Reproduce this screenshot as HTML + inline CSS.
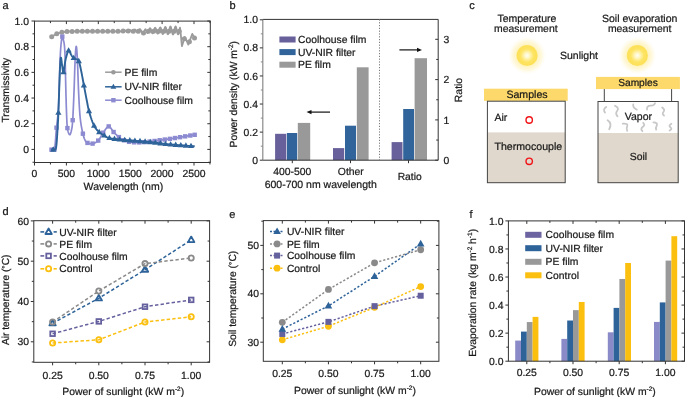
<!DOCTYPE html>
<html><head><meta charset="utf-8"><style>
html,body{margin:0;padding:0;background:#fff;width:685px;height:397px;overflow:hidden}
svg{display:block;font-family:"Liberation Sans", sans-serif;text-rendering:geometricPrecision;will-change:transform}
text{stroke:#1a1a1a;stroke-width:0.22px}
</style></head><body>
<svg width="685" height="397" viewBox="0 0 685 397">
<defs>
<radialGradient id="glow"><stop offset="0.45" stop-color="#fff1ac" stop-opacity="1"/><stop offset="0.75" stop-color="#fff6d0" stop-opacity="0.75"/><stop offset="1" stop-color="#fffaea" stop-opacity="0"/></radialGradient>
<radialGradient id="core"><stop offset="0" stop-color="#fffef6"/><stop offset="0.2" stop-color="#fff8cc"/><stop offset="0.62" stop-color="#fde462"/><stop offset="0.9" stop-color="#fde058"/><stop offset="1" stop-color="#fde468"/></radialGradient>
</defs>
<rect width="685" height="397" fill="#fff"/>
<text x="2.6" y="8.5" font-size="11" text-anchor="start" fill="#1a1a1a">a</text>
<rect x="34.5" y="21.1" width="175.8" height="141.4" fill="none" stroke="#333" stroke-width="1"/>
<line x1="32.5" y1="162.24" x2="34.5" y2="162.24" stroke="#333" stroke-width="1"/>
<line x1="210.3" y1="162.24" x2="208.3" y2="162.24" stroke="#333" stroke-width="1"/>
<line x1="31.5" y1="149.4" x2="34.5" y2="149.4" stroke="#333" stroke-width="1"/>
<line x1="210.3" y1="149.4" x2="207.3" y2="149.4" stroke="#333" stroke-width="1"/>
<text x="29" y="153" font-size="10.4" text-anchor="end" fill="#1a1a1a">0</text>
<line x1="32.5" y1="136.56" x2="34.5" y2="136.56" stroke="#333" stroke-width="1"/>
<line x1="210.3" y1="136.56" x2="208.3" y2="136.56" stroke="#333" stroke-width="1"/>
<line x1="31.5" y1="123.72" x2="34.5" y2="123.72" stroke="#333" stroke-width="1"/>
<line x1="210.3" y1="123.72" x2="207.3" y2="123.72" stroke="#333" stroke-width="1"/>
<text x="29" y="127.32" font-size="10.4" text-anchor="end" fill="#1a1a1a">0.2</text>
<line x1="32.5" y1="110.88" x2="34.5" y2="110.88" stroke="#333" stroke-width="1"/>
<line x1="210.3" y1="110.88" x2="208.3" y2="110.88" stroke="#333" stroke-width="1"/>
<line x1="31.5" y1="98.04" x2="34.5" y2="98.04" stroke="#333" stroke-width="1"/>
<line x1="210.3" y1="98.04" x2="207.3" y2="98.04" stroke="#333" stroke-width="1"/>
<text x="29" y="101.64" font-size="10.4" text-anchor="end" fill="#1a1a1a">0.4</text>
<line x1="32.5" y1="85.2" x2="34.5" y2="85.2" stroke="#333" stroke-width="1"/>
<line x1="210.3" y1="85.2" x2="208.3" y2="85.2" stroke="#333" stroke-width="1"/>
<line x1="31.5" y1="72.36" x2="34.5" y2="72.36" stroke="#333" stroke-width="1"/>
<line x1="210.3" y1="72.36" x2="207.3" y2="72.36" stroke="#333" stroke-width="1"/>
<text x="29" y="75.96" font-size="10.4" text-anchor="end" fill="#1a1a1a">0.6</text>
<line x1="32.5" y1="59.52" x2="34.5" y2="59.52" stroke="#333" stroke-width="1"/>
<line x1="210.3" y1="59.52" x2="208.3" y2="59.52" stroke="#333" stroke-width="1"/>
<line x1="31.5" y1="46.68" x2="34.5" y2="46.68" stroke="#333" stroke-width="1"/>
<line x1="210.3" y1="46.68" x2="207.3" y2="46.68" stroke="#333" stroke-width="1"/>
<text x="29" y="50.28" font-size="10.4" text-anchor="end" fill="#1a1a1a">0.8</text>
<line x1="32.5" y1="33.84" x2="34.5" y2="33.84" stroke="#333" stroke-width="1"/>
<line x1="210.3" y1="33.84" x2="208.3" y2="33.84" stroke="#333" stroke-width="1"/>
<line x1="31.5" y1="21" x2="34.5" y2="21" stroke="#333" stroke-width="1"/>
<line x1="210.3" y1="21" x2="207.3" y2="21" stroke="#333" stroke-width="1"/>
<text x="29" y="24.6" font-size="10.4" text-anchor="end" fill="#1a1a1a">1.0</text>
<line x1="34.5" y1="162.5" x2="34.5" y2="165.5" stroke="#333" stroke-width="1"/>
<line x1="34.5" y1="21.1" x2="34.5" y2="24.1" stroke="#333" stroke-width="1"/>
<text x="34.5" y="177" font-size="10.4" text-anchor="middle" fill="#1a1a1a">0</text>
<line x1="50.45" y1="162.5" x2="50.45" y2="164.5" stroke="#333" stroke-width="1"/>
<line x1="50.45" y1="21.1" x2="50.45" y2="23.1" stroke="#333" stroke-width="1"/>
<line x1="66.4" y1="162.5" x2="66.4" y2="165.5" stroke="#333" stroke-width="1"/>
<line x1="66.4" y1="21.1" x2="66.4" y2="24.1" stroke="#333" stroke-width="1"/>
<text x="66.4" y="177" font-size="10.4" text-anchor="middle" fill="#1a1a1a">500</text>
<line x1="82.35" y1="162.5" x2="82.35" y2="164.5" stroke="#333" stroke-width="1"/>
<line x1="82.35" y1="21.1" x2="82.35" y2="23.1" stroke="#333" stroke-width="1"/>
<line x1="98.3" y1="162.5" x2="98.3" y2="165.5" stroke="#333" stroke-width="1"/>
<line x1="98.3" y1="21.1" x2="98.3" y2="24.1" stroke="#333" stroke-width="1"/>
<text x="98.3" y="177" font-size="10.4" text-anchor="middle" fill="#1a1a1a">1000</text>
<line x1="114.25" y1="162.5" x2="114.25" y2="164.5" stroke="#333" stroke-width="1"/>
<line x1="114.25" y1="21.1" x2="114.25" y2="23.1" stroke="#333" stroke-width="1"/>
<line x1="130.2" y1="162.5" x2="130.2" y2="165.5" stroke="#333" stroke-width="1"/>
<line x1="130.2" y1="21.1" x2="130.2" y2="24.1" stroke="#333" stroke-width="1"/>
<text x="130.2" y="177" font-size="10.4" text-anchor="middle" fill="#1a1a1a">1500</text>
<line x1="146.15" y1="162.5" x2="146.15" y2="164.5" stroke="#333" stroke-width="1"/>
<line x1="146.15" y1="21.1" x2="146.15" y2="23.1" stroke="#333" stroke-width="1"/>
<line x1="162.1" y1="162.5" x2="162.1" y2="165.5" stroke="#333" stroke-width="1"/>
<line x1="162.1" y1="21.1" x2="162.1" y2="24.1" stroke="#333" stroke-width="1"/>
<text x="162.1" y="177" font-size="10.4" text-anchor="middle" fill="#1a1a1a">2000</text>
<line x1="178.05" y1="162.5" x2="178.05" y2="164.5" stroke="#333" stroke-width="1"/>
<line x1="178.05" y1="21.1" x2="178.05" y2="23.1" stroke="#333" stroke-width="1"/>
<line x1="194" y1="162.5" x2="194" y2="165.5" stroke="#333" stroke-width="1"/>
<line x1="194" y1="21.1" x2="194" y2="24.1" stroke="#333" stroke-width="1"/>
<text x="194" y="177" font-size="10.4" text-anchor="middle" fill="#1a1a1a">2500</text>
<line x1="209.95" y1="162.5" x2="209.95" y2="164.5" stroke="#333" stroke-width="1"/>
<line x1="209.95" y1="21.1" x2="209.95" y2="23.1" stroke="#333" stroke-width="1"/>
<text x="123.4" y="189.8" font-size="10.5" text-anchor="middle" fill="#1a1a1a">Wavelength (nm)</text>
<text x="9.2" y="90.2" font-size="10.3" text-anchor="middle" fill="#1a1a1a" transform="rotate(-90 9.2 90.2)">Transmissivity</text>
<polyline points="51.7,36.7 56,34 61.5,32.3 67,31.5 80,31.2 100,31.3 120,31.3 122,31.4 122.4,31.37 122.8,31.25 123.2,31.03 123.6,30.78 124,30.55 124.4,30.41 124.8,30.39 125.2,30.52 125.6,30.78 126,31.11 126.4,31.43 126.8,31.66 127.2,31.73 127.6,31.61 128,31.32 128.4,30.91 128.8,30.48 129.2,30.13 129.6,29.96 130,30.01 130.4,30.3 130.8,30.75 131.2,31.27 131.6,31.73 132,32.02 132.4,32.04 132.8,31.79 133.2,31.3 133.6,30.69 134,30.1 134.4,29.67 134.8,29.51 135.2,29.69 135.6,30.15 136,30.82 136.4,31.52 136.8,32.08 137.2,32.38 137.6,32.31 138,31.88 138.4,31.18 138.8,30.38 139.2,29.65 139.6,29.18 140,29.1 140.4,29.43 140.8,30.11 141.2,30.98 141.6,31.84 142,32.47 142.4,32.73 142.8,33.14 143.2,33.23 143.6,32.8 144,31.98 144.4,30.98 144.8,30.04 145.2,29.35 145.6,29.25 146,30.16 146.4,31.23 146.8,32.22 147.2,32.88 147.6,33.05 148,32.66 148.4,31.8 148.8,30.66 149.2,29.51 149.6,28.62 150,28.22 150.4,28.42 150.8,29.17 151.2,30.31 151.6,31.57 152,32.66 152.4,33.3 152.8,33.32 153.2,32.71 153.6,31.6 154,30.25 154.4,28.97 154.8,28.07 155.2,27.78 155.6,28.18 156,29.19 156.4,30.56 156.8,31.99 157.2,33.13 157.6,33.69 158,33.53 158.4,32.67 158.8,31.31 159.2,29.76 159.6,28.38 160,27.52 160.4,27.39 160.8,28.03 161.2,29.31 161.6,30.91 162,32.48 162.4,33.62 162.8,34.05 163.2,33.66 163.6,32.53 164,30.91 164.4,29.18 164.8,27.76 165.2,26.99 165.6,27.07 166,27.98 166.4,29.54 166.8,31.36 167.2,33.01 167.6,34.11 168,34.36 168.4,33.7 168.8,32.27 169.2,30.41 169.6,28.54 170,27.12 170.4,26.52 170.8,26.88 171.2,28.1 171.6,29.89 172,31.83 172.4,33.45 172.8,34.37 173.2,34.37 173.6,33.44 174,31.81 174.4,29.86 174.8,28.06 175.2,26.83 175.6,26.47 176,27.06 176.4,28.46 176.8,30.33 177.2,32.23 177.6,33.71 178,34.41 178.4,34.17 178.8,33.03 179.2,31.28 179.6,29.33 180,27.64 180.4,30.5 181.9,46.2 184.9,37 188.3,44.6 192.3,33.9 194.7,38.5" fill="none" stroke="#9b9b9b" stroke-width="1.8" stroke-linejoin="round"/>
<circle cx="51.7" cy="36.7" r="2.5" fill="#9b9b9b"/>
<circle cx="56.8" cy="33.75" r="2.5" fill="#9b9b9b"/>
<circle cx="61.9" cy="32.24" r="2.5" fill="#9b9b9b"/>
<circle cx="67" cy="31.5" r="2.5" fill="#9b9b9b"/>
<circle cx="72.1" cy="31.38" r="2.5" fill="#9b9b9b"/>
<circle cx="77.2" cy="31.26" r="2.5" fill="#9b9b9b"/>
<circle cx="82.3" cy="31.21" r="2.5" fill="#9b9b9b"/>
<circle cx="87.4" cy="31.24" r="2.5" fill="#9b9b9b"/>
<circle cx="92.5" cy="31.26" r="2.5" fill="#9b9b9b"/>
<circle cx="97.6" cy="31.29" r="2.5" fill="#9b9b9b"/>
<circle cx="102.7" cy="31.3" r="2.5" fill="#9b9b9b"/>
<circle cx="107.8" cy="31.3" r="2.5" fill="#9b9b9b"/>
<circle cx="112.9" cy="31.3" r="2.5" fill="#9b9b9b"/>
<circle cx="118" cy="31.3" r="2.5" fill="#9b9b9b"/>
<circle cx="123.1" cy="31.09" r="2.5" fill="#9b9b9b"/>
<circle cx="128.2" cy="31.11" r="2.5" fill="#9b9b9b"/>
<circle cx="133.3" cy="31.15" r="2.5" fill="#9b9b9b"/>
<circle cx="138.4" cy="31.18" r="2.5" fill="#9b9b9b"/>
<circle cx="143.5" cy="32.9" r="2.5" fill="#9b9b9b"/>
<circle cx="148.6" cy="31.23" r="2.5" fill="#9b9b9b"/>
<circle cx="153.7" cy="31.27" r="2.5" fill="#9b9b9b"/>
<circle cx="158.8" cy="31.31" r="2.5" fill="#9b9b9b"/>
<circle cx="163.9" cy="31.31" r="2.5" fill="#9b9b9b"/>
<circle cx="169" cy="31.34" r="2.5" fill="#9b9b9b"/>
<circle cx="174.1" cy="31.32" r="2.5" fill="#9b9b9b"/>
<circle cx="179.2" cy="31.28" r="2.5" fill="#9b9b9b"/>
<circle cx="184.3" cy="38.84" r="2.5" fill="#9b9b9b"/>
<circle cx="189.4" cy="41.66" r="2.5" fill="#9b9b9b"/>
<circle cx="194.5" cy="38.12" r="2.5" fill="#9b9b9b"/>
<polyline points="51.2,149.5 51.58,149.7 52.11,150.17 52.74,150.63 53.39,150.82 54,150.46 54.5,149.3 54.88,147.14 55.2,144.17 55.48,140.66 55.74,136.88 56.01,133.1 56.3,129.6 56.63,126.45 56.99,123.44 57.34,120.44 57.69,117.3 58.02,113.87 58.3,110 58.54,105.46 58.75,100.33 58.94,94.9 59.1,89.5 59.26,84.43 59.4,80 59.53,76.24 59.64,72.89 59.73,69.88 59.82,67.11 59.91,64.51 60,62 60.1,59.62 60.19,57.44 60.29,55.44 60.39,53.56 60.49,51.76 60.6,50 60.72,48.27 60.85,46.61 60.98,45.02 61.12,43.55 61.26,42.2 61.4,41 61.54,39.91 61.69,38.9 61.83,38.03 61.98,37.32 62.14,36.83 62.3,36.6 62.47,36.69 62.66,37.08 62.84,37.68 63.03,38.42 63.22,39.22 63.4,40 63.58,40.71 63.75,41.42 63.92,42.18 64.09,43.07 64.25,44.15 64.4,45.5 64.53,46.98 64.66,48.5 64.77,50.22 64.88,52.28 64.99,54.82 65.1,58 65.22,62.06 65.33,66.93 65.45,72.28 65.57,77.8 65.68,83.14 65.8,88 65.91,92.44 66.03,96.74 66.14,100.87 66.25,104.81 66.37,108.53 66.5,112 66.62,115.25 66.74,118.3 66.86,121.14 67,123.73 67.17,126.06 67.4,128.1 67.69,129.88 68.05,131.42 68.44,132.7 68.84,133.69 69.24,134.36 69.6,134.7 69.94,134.63 70.28,134.16 70.61,133.37 70.93,132.36 71.23,131.21 71.5,130 71.74,128.87 71.95,127.79 72.14,126.57 72.32,125.02 72.5,122.96 72.7,120.2 72.91,116.63 73.13,112.38 73.35,107.61 73.57,102.51 73.79,97.25 74,92 74.21,86.41 74.41,80.27 74.61,73.97 74.81,67.9 75.01,62.44 75.2,58 75.39,54.47 75.57,51.51 75.76,49.17 75.94,47.49 76.12,46.52 76.3,46.3 76.48,46.9 76.66,48.31 76.84,50.42 77.03,53.14 77.21,56.36 77.4,60 77.59,64.34 77.78,69.53 77.97,75.23 78.17,81.1 78.38,86.8 78.6,92 78.83,96.8 79.06,101.49 79.31,106.02 79.57,110.32 79.87,114.33 80.2,118 80.59,121.32 81.04,124.34 81.52,127.08 82,129.54 82.47,131.75 82.9,133.7 83.28,135.33 83.63,136.62 83.96,137.65 84.29,138.5 84.63,139.26 85,140 85.36,140.71 85.71,141.3 86.06,141.8 86.46,142.22 86.93,142.58 87.5,142.9 88.19,143.19 88.99,143.43 89.86,143.62 90.77,143.72 91.69,143.72 92.6,143.6 93.51,143.37 94.45,143.06 95.41,142.64 96.36,142.1 97.3,141.43 98.2,140.6 99.06,139.55 99.89,138.27 100.71,136.86 101.52,135.4 102.34,133.98 103.2,132.7 104.09,131.42 105.02,130.04 105.96,128.71 106.89,127.56 107.81,126.74 108.7,126.4 109.55,126.65 110.36,127.4 111.16,128.49 111.96,129.73 112.77,130.96 113.6,132 114.46,132.9 115.34,133.81 116.24,134.7 117.13,135.56 118.02,136.37 118.9,137.1 119.75,137.76 120.58,138.36 121.41,138.91 122.24,139.41 123.1,139.88 124,140.3 124.9,140.69 125.79,141.03 126.69,141.33 127.67,141.59 128.76,141.81 130,142 131.44,142.16 133.04,142.27 134.75,142.36 136.52,142.4 138.29,142.42 140,142.4 141.69,142.34 143.39,142.24 145.1,142.1 146.79,141.94 148.43,141.77 150,141.6 151.46,141.43 152.81,141.24 154.12,141.04 155.45,140.84 156.86,140.62 158.4,140.4 160.11,140.17 161.96,139.93 163.88,139.68 165.82,139.43 167.75,139.17 169.6,138.9 171.33,138.64 172.97,138.37 174.58,138.11 176.24,137.83 178.03,137.53 180,137.2 182.37,136.81 185.13,136.36 188,135.89 190.73,135.45 193.05,135.07 194.7,134.8" fill="none" stroke="#8c8ad0" stroke-width="1.7" stroke-linejoin="round"/>
<rect x="49.3" y="147.46" width="4.4" height="4.4" fill="#8c8ad0"/>
<rect x="52.3" y="147.1" width="4.4" height="4.4" fill="#8c8ad0"/>
<rect x="54.3" y="125.5" width="4.4" height="4.4" fill="#8c8ad0"/>
<rect x="60.1" y="34.4" width="4.4" height="4.4" fill="#8c8ad0"/>
<rect x="65.2" y="125.9" width="4.4" height="4.4" fill="#8c8ad0"/>
<rect x="70.5" y="118" width="4.4" height="4.4" fill="#8c8ad0"/>
<rect x="80.7" y="131.5" width="4.4" height="4.4" fill="#8c8ad0"/>
<rect x="85.3" y="140.7" width="4.4" height="4.4" fill="#8c8ad0"/>
<rect x="90.4" y="141.4" width="4.4" height="4.4" fill="#8c8ad0"/>
<rect x="96" y="138.4" width="4.4" height="4.4" fill="#8c8ad0"/>
<rect x="101" y="130.5" width="4.4" height="4.4" fill="#8c8ad0"/>
<rect x="106.5" y="124.2" width="4.4" height="4.4" fill="#8c8ad0"/>
<rect x="111.4" y="129.8" width="4.4" height="4.4" fill="#8c8ad0"/>
<rect x="116.7" y="134.9" width="4.4" height="4.4" fill="#8c8ad0"/>
<rect x="121.8" y="138.1" width="4.4" height="4.4" fill="#8c8ad0"/>
<rect x="126.9" y="139.66" width="4.4" height="4.4" fill="#8c8ad0"/>
<rect x="132" y="140.13" width="4.4" height="4.4" fill="#8c8ad0"/>
<rect x="137.1" y="140.21" width="4.4" height="4.4" fill="#8c8ad0"/>
<rect x="142.2" y="139.96" width="4.4" height="4.4" fill="#8c8ad0"/>
<rect x="147.3" y="139.45" width="4.4" height="4.4" fill="#8c8ad0"/>
<rect x="152.4" y="138.77" width="4.4" height="4.4" fill="#8c8ad0"/>
<rect x="157.5" y="138.03" width="4.4" height="4.4" fill="#8c8ad0"/>
<rect x="162.6" y="137.36" width="4.4" height="4.4" fill="#8c8ad0"/>
<rect x="167.7" y="136.65" width="4.4" height="4.4" fill="#8c8ad0"/>
<rect x="172.8" y="135.84" width="4.4" height="4.4" fill="#8c8ad0"/>
<rect x="177.9" y="134.98" width="4.4" height="4.4" fill="#8c8ad0"/>
<rect x="183" y="134.15" width="4.4" height="4.4" fill="#8c8ad0"/>
<rect x="188.1" y="133.32" width="4.4" height="4.4" fill="#8c8ad0"/>
<rect x="192.5" y="132.6" width="4.4" height="4.4" fill="#8c8ad0"/>
<polyline points="51.2,149.5 51.58,149.53 52.11,149.59 52.74,149.66 53.4,149.69 54,149.64 54.5,149.5 54.88,149.4 55.2,149.39 55.48,149.31 55.72,149 55.96,148.28 56.2,147 56.44,145.01 56.68,142.41 56.9,139.42 57.11,136.22 57.31,133.01 57.5,130 57.67,127.28 57.83,124.71 57.97,122.14 58.11,119.4 58.25,116.34 58.4,112.8 58.56,108.57 58.73,103.73 58.91,98.57 59.08,93.38 59.24,88.42 59.4,84 59.54,80 59.68,76.18 59.81,72.6 59.94,69.33 60.07,66.44 60.2,64 60.33,61.98 60.45,60.31 60.58,59.03 60.7,58.13 60.84,57.65 61,57.6 61.18,58.17 61.37,59.39 61.57,61.01 61.78,62.81 61.99,64.56 62.2,66 62.4,67.37 62.6,68.91 62.8,70.39 63.01,71.58 63.24,72.26 63.5,72.2 63.78,71.2 64.08,69.39 64.39,67.08 64.73,64.54 65.1,62.08 65.5,60 65.95,58.12 66.44,56.17 66.97,54.29 67.5,52.64 68.02,51.36 68.5,50.6 68.95,50.49 69.38,50.94 69.8,51.77 70.21,52.77 70.61,53.74 71,54.5 71.38,55.08 71.73,55.66 72.08,56.21 72.43,56.72 72.8,57.19 73.2,57.6 73.63,57.92 74.09,58.16 74.56,58.36 75.04,58.54 75.53,58.74 76,59 76.47,59.23 76.95,59.39 77.43,59.57 77.9,59.87 78.36,60.38 78.8,61.2 79.22,62.33 79.61,63.69 79.99,65.27 80.38,67.03 80.78,68.95 81.2,71 81.66,73.28 82.14,75.82 82.64,78.52 83.14,81.27 83.63,83.97 84.1,86.5 84.55,88.88 84.99,91.18 85.41,93.43 85.84,95.64 86.26,97.83 86.7,100 87.12,102.14 87.51,104.24 87.91,106.31 88.34,108.37 88.83,110.46 89.4,112.6 90.08,114.87 90.83,117.27 91.65,119.7 92.5,122.04 93.36,124.17 94.2,126 95.04,127.49 95.9,128.71 96.76,129.74 97.63,130.63 98.48,131.43 99.3,132.2 100.1,132.9 100.87,133.49 101.63,133.98 102.39,134.43 103.14,134.85 103.9,135.3 104.59,135.76 105.18,136.2 105.77,136.63 106.46,137.04 107.33,137.43 108.5,137.8 109.86,138.14 111.32,138.44 112.97,138.73 114.91,139.01 117.22,139.3 120,139.6 123.39,139.91 127.35,140.22 131.68,140.54 136.2,140.87 140.7,141.22 145,141.6 149.12,142.03 153.21,142.51 157.29,143.01 161.38,143.5 165.48,143.98 169.6,144.4 174.04,144.79 178.86,145.17 183.69,145.53 188.17,145.84 191.96,146.1 194.7,146.3" fill="none" stroke="#2e6399" stroke-width="1.9" stroke-linejoin="round"/>
<polygon points="53.3,146.35 50.2,151.72 56.4,151.72" fill="#2e6399"/>
<polygon points="58.4,109.47 55.3,114.84 61.5,114.84" fill="#2e6399"/>
<polygon points="63.5,68.87 60.4,74.24 66.6,74.24" fill="#2e6399"/>
<polygon points="68.6,47.25 65.5,52.62 71.7,52.62" fill="#2e6399"/>
<polygon points="73.7,54.63 70.6,60 76.8,60" fill="#2e6399"/>
<polygon points="78.8,57.87 75.7,63.24 81.9,63.24" fill="#2e6399"/>
<polygon points="83.9,82.1 80.8,87.47 87,87.47" fill="#2e6399"/>
<polygon points="89,107.78 85.9,113.15 92.1,113.15" fill="#2e6399"/>
<polygon points="94.1,122.45 91,127.82 97.2,127.82" fill="#2e6399"/>
<polygon points="99.2,128.78 96.1,134.15 102.3,134.15" fill="#2e6399"/>
<polygon points="104.3,132.24 101.2,137.61 107.4,137.61" fill="#2e6399"/>
<polygon points="109.4,134.69 106.3,140.06 112.5,140.06" fill="#2e6399"/>
<polygon points="114.5,135.62 111.4,140.99 117.6,140.99" fill="#2e6399"/>
<polygon points="119.6,136.23 116.5,141.6 122.7,141.6" fill="#2e6399"/>
<polygon points="124.7,136.69 121.6,142.06 127.8,142.06" fill="#2e6399"/>
<polygon points="129.8,137.07 126.7,142.44 132.9,142.44" fill="#2e6399"/>
<polygon points="134.9,137.44 131.8,142.81 138,142.81" fill="#2e6399"/>
<polygon points="140,137.83 136.9,143.2 143.1,143.2" fill="#2e6399"/>
<polygon points="145.1,138.28 142,143.65 148.2,143.65" fill="#2e6399"/>
<polygon points="150.2,138.83 147.1,144.2 153.3,144.2" fill="#2e6399"/>
<polygon points="155.3,139.43 152.2,144.8 158.4,144.8" fill="#2e6399"/>
<polygon points="160.4,140.06 157.3,145.42 163.5,145.42" fill="#2e6399"/>
<polygon points="165.5,140.65 162.4,146.02 168.6,146.02" fill="#2e6399"/>
<polygon points="170.6,141.16 167.5,146.53 173.7,146.53" fill="#2e6399"/>
<polygon points="175.7,141.59 172.6,146.96 178.8,146.96" fill="#2e6399"/>
<polygon points="180.8,141.98 177.7,147.35 183.9,147.35" fill="#2e6399"/>
<polygon points="185.9,142.35 182.8,147.72 189,147.72" fill="#2e6399"/>
<polygon points="191,142.71 187.9,148.08 194.1,148.08" fill="#2e6399"/>
<line x1="105.1" y1="72.2" x2="121.6" y2="72.2" stroke="#9b9b9b" stroke-width="1.5"/>
<circle cx="113.4" cy="72.2" r="2.3" fill="#9b9b9b"/>
<text x="124.5" y="75.8" font-size="10.35" text-anchor="start" fill="#1a1a1a">PE film</text>
<line x1="105.1" y1="86.8" x2="121.6" y2="86.8" stroke="#2e6399" stroke-width="1.5"/>
<polygon points="113.4,83.69 110.5,88.71 116.3,88.71" fill="#2e6399"/>
<text x="124.5" y="90.4" font-size="10.35" text-anchor="start" fill="#1a1a1a">UV-NIR filter</text>
<line x1="105.1" y1="100.2" x2="121.6" y2="100.2" stroke="#8c8ad0" stroke-width="1.5"/>
<rect x="111.2" y="98" width="4.4" height="4.4" fill="#8c8ad0"/>
<text x="124.5" y="103.8" font-size="10.35" text-anchor="start" fill="#1a1a1a">Coolhouse film</text>
<text x="229.6" y="8.8" font-size="11" text-anchor="start" fill="#1a1a1a">b</text>
<rect x="275.1" y="133.8" width="11.2" height="26.4" fill="#67609a"/>
<rect x="286.9" y="133" width="10.3" height="27.2" fill="#30649a"/>
<rect x="297.8" y="122.9" width="12.4" height="37.3" fill="#999999"/>
<rect x="333" y="148.1" width="11.2" height="12.1" fill="#67609a"/>
<rect x="345" y="125.7" width="11" height="34.5" fill="#30649a"/>
<rect x="356.8" y="67.3" width="11.8" height="92.9" fill="#999999"/>
<rect x="391.6" y="142.1" width="10.9" height="18.1" fill="#67609a"/>
<rect x="403.2" y="109" width="10.8" height="51.2" fill="#30649a"/>
<rect x="414.6" y="58.2" width="12.4" height="102" fill="#999999"/>
<line x1="262.8" y1="19.4" x2="438.2" y2="19.4" stroke="#333" stroke-width="1"/>
<line x1="438.2" y1="19.4" x2="438.2" y2="160.2" stroke="#333" stroke-width="1"/>
<line x1="262.8" y1="160.2" x2="438.2" y2="160.2" stroke="#333" stroke-width="1"/>
<line x1="262.8" y1="19.4" x2="262.8" y2="160.2" stroke="#8a8a8a" stroke-width="1.2"/>
<line x1="379.5" y1="19.4" x2="379.5" y2="160.2" stroke="#7a7a7a" stroke-width="1" stroke-dasharray="1.2,1.6"/>
<line x1="259.8" y1="160.2" x2="262.8" y2="160.2" stroke="#333" stroke-width="1"/>
<text x="258" y="163.8" font-size="10.4" text-anchor="end" fill="#1a1a1a">0</text>
<line x1="260.8" y1="146.16" x2="262.8" y2="146.16" stroke="#8a8a8a" stroke-width="1"/>
<line x1="259.8" y1="132.12" x2="262.8" y2="132.12" stroke="#333" stroke-width="1"/>
<text x="258" y="135.72" font-size="10.4" text-anchor="end" fill="#1a1a1a">0.2</text>
<line x1="260.8" y1="118.08" x2="262.8" y2="118.08" stroke="#8a8a8a" stroke-width="1"/>
<line x1="259.8" y1="104.04" x2="262.8" y2="104.04" stroke="#333" stroke-width="1"/>
<text x="258" y="107.64" font-size="10.4" text-anchor="end" fill="#1a1a1a">0.4</text>
<line x1="260.8" y1="90" x2="262.8" y2="90" stroke="#8a8a8a" stroke-width="1"/>
<line x1="259.8" y1="75.96" x2="262.8" y2="75.96" stroke="#333" stroke-width="1"/>
<text x="258" y="79.56" font-size="10.4" text-anchor="end" fill="#1a1a1a">0.6</text>
<line x1="260.8" y1="61.92" x2="262.8" y2="61.92" stroke="#8a8a8a" stroke-width="1"/>
<line x1="259.8" y1="47.88" x2="262.8" y2="47.88" stroke="#333" stroke-width="1"/>
<text x="258" y="51.48" font-size="10.4" text-anchor="end" fill="#1a1a1a">0.8</text>
<line x1="260.8" y1="33.84" x2="262.8" y2="33.84" stroke="#8a8a8a" stroke-width="1"/>
<line x1="259.8" y1="19.8" x2="262.8" y2="19.8" stroke="#333" stroke-width="1"/>
<text x="258" y="23.4" font-size="10.4" text-anchor="end" fill="#1a1a1a">1.0</text>
<line x1="438.2" y1="160.2" x2="435.2" y2="160.2" stroke="#333" stroke-width="1"/>
<text x="443.6" y="163.8" font-size="10.4" text-anchor="start" fill="#1a1a1a">0</text>
<line x1="438.2" y1="140.05" x2="436.2" y2="140.05" stroke="#333" stroke-width="1"/>
<line x1="438.2" y1="119.9" x2="435.2" y2="119.9" stroke="#333" stroke-width="1"/>
<text x="443.6" y="123.5" font-size="10.4" text-anchor="start" fill="#1a1a1a">1</text>
<line x1="438.2" y1="99.75" x2="436.2" y2="99.75" stroke="#333" stroke-width="1"/>
<line x1="438.2" y1="79.6" x2="435.2" y2="79.6" stroke="#333" stroke-width="1"/>
<text x="443.6" y="83.2" font-size="10.4" text-anchor="start" fill="#1a1a1a">2</text>
<line x1="438.2" y1="59.45" x2="436.2" y2="59.45" stroke="#333" stroke-width="1"/>
<line x1="438.2" y1="39.3" x2="435.2" y2="39.3" stroke="#333" stroke-width="1"/>
<text x="443.6" y="42.9" font-size="10.4" text-anchor="start" fill="#1a1a1a">3</text>
<line x1="292.3" y1="160.2" x2="292.3" y2="163.2" stroke="#333" stroke-width="1"/>
<line x1="350.5" y1="160.2" x2="350.5" y2="163.2" stroke="#333" stroke-width="1"/>
<line x1="408.5" y1="160.2" x2="408.5" y2="163.2" stroke="#333" stroke-width="1"/>
<text x="292.3" y="175.4" font-size="10.4" text-anchor="middle" fill="#1a1a1a">400-500</text>
<text x="350.8" y="175.4" font-size="10.4" text-anchor="middle" fill="#1a1a1a">Other</text>
<text x="320.7" y="187.5" font-size="10.5" text-anchor="middle" fill="#1a1a1a">600-700 nm wavelength</text>
<text x="409.7" y="180" font-size="10.3" text-anchor="middle" fill="#1a1a1a">Ratio</text>
<text x="237.5" y="94.2" font-size="10.3" text-anchor="middle" fill="#1a1a1a" transform="rotate(-90 237.5 94.2)">Power density (kW m<tspan font-size="6.5" dy="-4">-2</tspan><tspan dy="4">)</tspan></text>
<text x="462" y="90" font-size="10.4" text-anchor="middle" fill="#1a1a1a" transform="rotate(-90 462 90)">Ratio</text>
<rect x="279.4" y="36.5" width="16.2" height="6" fill="#67609a"/>
<text x="298" y="43.1" font-size="10.35" text-anchor="start" fill="#1a1a1a">Coolhouse film</text>
<rect x="279.4" y="49.1" width="16.2" height="6" fill="#30649a"/>
<text x="298" y="55.7" font-size="10.35" text-anchor="start" fill="#1a1a1a">UV-NIR filter</text>
<rect x="279.4" y="61.7" width="16.2" height="6" fill="#999999"/>
<text x="298" y="68.3" font-size="10.35" text-anchor="start" fill="#1a1a1a">PE film</text>
<line x1="309" y1="112.1" x2="330" y2="112.1" stroke="#111" stroke-width="1.2"/>
<polygon points="306.5,112.1 311.5,110 311.5,114.2" fill="#111"/>
<line x1="399.4" y1="49.9" x2="419.5" y2="49.9" stroke="#111" stroke-width="1.2"/>
<polygon points="422,49.9 417,47.8 417,52" fill="#111"/>
<text x="469.2" y="8.6" font-size="11" text-anchor="start" fill="#1a1a1a">c</text>
<text x="526.9" y="21.7" font-size="10.5" text-anchor="middle" fill="#1a1a1a">Temperature</text>
<text x="525.8" y="32.3" font-size="10.4" text-anchor="middle" fill="#1a1a1a">measurement</text>
<text x="639.7" y="21.7" font-size="10.5" text-anchor="middle" fill="#1a1a1a">Soil evaporation</text>
<text x="639.7" y="32.3" font-size="10.4" text-anchor="middle" fill="#1a1a1a">measurement</text>
<text x="579" y="58.8" font-size="10.5" text-anchor="middle" fill="#1a1a1a">Sunlight</text>
<circle cx="527.1" cy="55.5" r="19" fill="url(#glow)"/>
<circle cx="527.1" cy="55.5" r="10.6" fill="url(#core)"/>
<circle cx="637.4" cy="55.5" r="19" fill="url(#glow)"/>
<circle cx="637.4" cy="55.5" r="10.6" fill="url(#core)"/>
<rect x="484" y="88.7" width="83.7" height="12.2" fill="#fdd86a"/>
<text x="527" y="98.4" font-size="10.6" text-anchor="middle" fill="#1a1a1a">Samples</text>
<rect x="487.4" y="132.4" width="77.8" height="50.3" fill="#e0d8cc"/>
<rect x="487.4" y="101.2" width="77.8" height="81.5" fill="none" stroke="#444" stroke-width="1"/>
<text x="494.5" y="121.2" font-size="10.5" text-anchor="start" fill="#1a1a1a">Air</text>
<text x="494.5" y="149.8" font-size="10.6" text-anchor="start" fill="#1a1a1a">Thermocouple</text>
<circle cx="529.2" cy="120" r="3.2" fill="none" stroke="#f01418" stroke-width="1.4"/>
<circle cx="529.2" cy="161.3" r="3.2" fill="none" stroke="#f01418" stroke-width="1.4"/>
<rect x="596" y="76.9" width="83.9" height="12.2" fill="#fdd86a"/>
<text x="638" y="85.5" font-size="10.2" text-anchor="middle" fill="#1a1a1a">Samples</text>
<line x1="604.3" y1="89.1" x2="604.3" y2="101.5" stroke="#444" stroke-width="1"/>
<line x1="671.6" y1="89.1" x2="671.6" y2="101.5" stroke="#444" stroke-width="1"/>
<rect x="598" y="133" width="80.2" height="49.7" fill="#e0d8cc"/>
<rect x="598" y="101.5" width="80.2" height="81.2" fill="none" stroke="#444" stroke-width="1"/>
<text x="638.4" y="119.9" font-size="10.5" text-anchor="middle" fill="#1a1a1a">Vapor</text>
<text x="638.4" y="159.7" font-size="10.4" text-anchor="middle" fill="#1a1a1a">Soil</text>
<path d="M606.2,107 Q602.5,109.5 605,112.6" fill="none" stroke="#c8c8c8" stroke-width="1.8" stroke-linecap="round"/>
<path d="M615,105.8 Q619.5,108 617.2,110.8 Q615,113.5 617.5,116.3" fill="none" stroke="#c8c8c8" stroke-width="1.8" stroke-linecap="round"/>
<path d="M633.2,104.3 Q632.8,107.8 636.8,109.6" fill="none" stroke="#c8c8c8" stroke-width="1.8" stroke-linecap="round"/>
<path d="M647,109.6 Q646.6,105.6 650.6,105.6 Q654,105.8 655,103.2" fill="none" stroke="#c8c8c8" stroke-width="1.8" stroke-linecap="round"/>
<path d="M662.2,107.5 Q665.4,109.8 663.4,112 Q661.8,114 664,115.6" fill="none" stroke="#c8c8c8" stroke-width="1.8" stroke-linecap="round"/>
<path d="M607.6,120.3 Q612.4,123.6 609.2,129.2" fill="none" stroke="#c8c8c8" stroke-width="1.8" stroke-linecap="round"/>
<path d="M622.8,123.6 Q628.4,123.2 627.2,126.2 Q626,128.4 627.2,130.8" fill="none" stroke="#c8c8c8" stroke-width="1.8" stroke-linecap="round"/>
<path d="M643.2,122.8 Q645.6,125 642.6,127 Q640.2,129 642.4,131.2" fill="none" stroke="#c8c8c8" stroke-width="1.8" stroke-linecap="round"/>
<path d="M653.4,122.4 Q658,122.6 656.8,125.4 Q655.4,127.6 656.2,129.6" fill="none" stroke="#c8c8c8" stroke-width="1.8" stroke-linecap="round"/>
<path d="M671.4,123.8 Q668,126 670.6,127.4 Q672.6,128.8 669.6,130.6" fill="none" stroke="#c8c8c8" stroke-width="1.8" stroke-linecap="round"/>
<text x="2.5" y="215.3" font-size="11" text-anchor="start" fill="#1a1a1a">d</text>
<rect x="33.8" y="220.7" width="175.8" height="141.60000000000002" fill="none" stroke="#333" stroke-width="1"/>
<line x1="31.8" y1="361.95" x2="33.8" y2="361.95" stroke="#333" stroke-width="1"/>
<line x1="209.6" y1="361.95" x2="207.6" y2="361.95" stroke="#333" stroke-width="1"/>
<line x1="30.8" y1="341.8" x2="33.8" y2="341.8" stroke="#333" stroke-width="1"/>
<line x1="209.6" y1="341.8" x2="206.6" y2="341.8" stroke="#333" stroke-width="1"/>
<text x="29" y="345.4" font-size="10.4" text-anchor="end" fill="#1a1a1a">30</text>
<line x1="31.8" y1="321.65" x2="33.8" y2="321.65" stroke="#333" stroke-width="1"/>
<line x1="209.6" y1="321.65" x2="207.6" y2="321.65" stroke="#333" stroke-width="1"/>
<line x1="30.8" y1="301.5" x2="33.8" y2="301.5" stroke="#333" stroke-width="1"/>
<line x1="209.6" y1="301.5" x2="206.6" y2="301.5" stroke="#333" stroke-width="1"/>
<text x="29" y="305.1" font-size="10.4" text-anchor="end" fill="#1a1a1a">40</text>
<line x1="31.8" y1="281.35" x2="33.8" y2="281.35" stroke="#333" stroke-width="1"/>
<line x1="209.6" y1="281.35" x2="207.6" y2="281.35" stroke="#333" stroke-width="1"/>
<line x1="30.8" y1="261.2" x2="33.8" y2="261.2" stroke="#333" stroke-width="1"/>
<line x1="209.6" y1="261.2" x2="206.6" y2="261.2" stroke="#333" stroke-width="1"/>
<text x="29" y="264.8" font-size="10.4" text-anchor="end" fill="#1a1a1a">50</text>
<line x1="31.8" y1="241.05" x2="33.8" y2="241.05" stroke="#333" stroke-width="1"/>
<line x1="209.6" y1="241.05" x2="207.6" y2="241.05" stroke="#333" stroke-width="1"/>
<line x1="30.8" y1="220.9" x2="33.8" y2="220.9" stroke="#333" stroke-width="1"/>
<line x1="209.6" y1="220.9" x2="206.6" y2="220.9" stroke="#333" stroke-width="1"/>
<text x="29" y="224.5" font-size="10.4" text-anchor="end" fill="#1a1a1a">60</text>
<line x1="52.6" y1="362.3" x2="52.6" y2="365.3" stroke="#333" stroke-width="1"/>
<line x1="52.6" y1="220.7" x2="52.6" y2="223.7" stroke="#333" stroke-width="1"/>
<text x="52.6" y="378.6" font-size="10.4" text-anchor="middle" fill="#1a1a1a">0.25</text>
<line x1="75.7" y1="362.3" x2="75.7" y2="364.3" stroke="#333" stroke-width="1"/>
<line x1="75.7" y1="220.7" x2="75.7" y2="222.7" stroke="#333" stroke-width="1"/>
<line x1="98.8" y1="362.3" x2="98.8" y2="365.3" stroke="#333" stroke-width="1"/>
<line x1="98.8" y1="220.7" x2="98.8" y2="223.7" stroke="#333" stroke-width="1"/>
<text x="98.8" y="378.6" font-size="10.4" text-anchor="middle" fill="#1a1a1a">0.50</text>
<line x1="121.9" y1="362.3" x2="121.9" y2="364.3" stroke="#333" stroke-width="1"/>
<line x1="121.9" y1="220.7" x2="121.9" y2="222.7" stroke="#333" stroke-width="1"/>
<line x1="145" y1="362.3" x2="145" y2="365.3" stroke="#333" stroke-width="1"/>
<line x1="145" y1="220.7" x2="145" y2="223.7" stroke="#333" stroke-width="1"/>
<text x="145" y="378.6" font-size="10.4" text-anchor="middle" fill="#1a1a1a">0.75</text>
<line x1="168.1" y1="362.3" x2="168.1" y2="364.3" stroke="#333" stroke-width="1"/>
<line x1="168.1" y1="220.7" x2="168.1" y2="222.7" stroke="#333" stroke-width="1"/>
<line x1="191.2" y1="362.3" x2="191.2" y2="365.3" stroke="#333" stroke-width="1"/>
<line x1="191.2" y1="220.7" x2="191.2" y2="223.7" stroke="#333" stroke-width="1"/>
<text x="191.2" y="378.6" font-size="10.4" text-anchor="middle" fill="#1a1a1a">1.00</text>
<text x="123.25" y="394.6" font-size="10.4" text-anchor="middle" fill="#1a1a1a">Power of sunlight (kW m<tspan font-size="6.5" dy="-4">-2</tspan><tspan dy="4">)</tspan></text>
<text x="9.4" y="299.8" font-size="10.2" text-anchor="middle" fill="#1a1a1a" transform="rotate(-90 9.4 299.8)">Air temperature (<tspan font-size="8.5" dy="-1.6">°</tspan><tspan dy="1.6">C)</tspan></text>
<polyline points="52.6,323.26 98.8,298.28 145,269.66 191.2,240" fill="none" stroke="#2e6399" stroke-width="1.5" stroke-linejoin="round" stroke-dasharray="3.4,2.2"/>
<polyline points="52.6,322.05 98.8,291.02 145,263.62 191.2,257.98" fill="none" stroke="#8a8a8a" stroke-width="1.5" stroke-linejoin="round" stroke-dasharray="3.4,2.2"/>
<polyline points="52.6,333.74 98.8,321.41 145,306.74 191.2,299.89" fill="none" stroke="#65609e" stroke-width="1.5" stroke-linejoin="round" stroke-dasharray="3.4,2.2"/>
<polyline points="52.6,343.01 98.8,339.79 145,322.05 191.2,316.81" fill="none" stroke="#fbbf0f" stroke-width="1.5" stroke-linejoin="round" stroke-dasharray="3.4,2.2"/>
<polygon points="52.6,319.83 49.4,325.37 55.8,325.37" fill="none" stroke="#2e6399" stroke-width="1.8" stroke-linejoin="round"/>
<polygon points="98.8,294.84 95.6,300.38 102,300.38" fill="none" stroke="#2e6399" stroke-width="1.8" stroke-linejoin="round"/>
<polygon points="145,266.23 141.8,271.77 148.2,271.77" fill="none" stroke="#2e6399" stroke-width="1.8" stroke-linejoin="round"/>
<polygon points="191.2,236.57 188,242.11 194.4,242.11" fill="none" stroke="#2e6399" stroke-width="1.8" stroke-linejoin="round"/>
<circle cx="52.6" cy="322.05" r="2.6" fill="none" stroke="#8a8a8a" stroke-width="1.8"/>
<circle cx="98.8" cy="291.02" r="2.6" fill="none" stroke="#8a8a8a" stroke-width="1.8"/>
<circle cx="145" cy="263.62" r="2.6" fill="none" stroke="#8a8a8a" stroke-width="1.8"/>
<circle cx="191.2" cy="257.98" r="2.6" fill="none" stroke="#8a8a8a" stroke-width="1.8"/>
<rect x="50.3" y="331.44" width="4.6" height="4.6" fill="none" stroke="#65609e" stroke-width="1.8"/>
<rect x="96.5" y="319.11" width="4.6" height="4.6" fill="none" stroke="#65609e" stroke-width="1.8"/>
<rect x="142.7" y="304.44" width="4.6" height="4.6" fill="none" stroke="#65609e" stroke-width="1.8"/>
<rect x="188.9" y="297.59" width="4.6" height="4.6" fill="none" stroke="#65609e" stroke-width="1.8"/>
<circle cx="52.6" cy="343.01" r="2.6" fill="none" stroke="#fbbf0f" stroke-width="1.8"/>
<circle cx="98.8" cy="339.79" r="2.6" fill="none" stroke="#fbbf0f" stroke-width="1.8"/>
<circle cx="145" cy="322.05" r="2.6" fill="none" stroke="#fbbf0f" stroke-width="1.8"/>
<circle cx="191.2" cy="316.81" r="2.6" fill="none" stroke="#fbbf0f" stroke-width="1.8"/>
<line x1="40.4" y1="231.9" x2="44.2" y2="231.9" stroke="#2e6399" stroke-width="1.6"/>
<line x1="53.6" y1="231.9" x2="56.8" y2="231.9" stroke="#2e6399" stroke-width="1.6"/>
<polygon points="48.6,228.46 45.4,234.01 51.8,234.01" fill="none" stroke="#2e6399" stroke-width="1.8" stroke-linejoin="round"/>
<text x="59.3" y="235.5" font-size="10.35" text-anchor="start" fill="#1a1a1a">UV-NIR filter</text>
<line x1="40.4" y1="243.9" x2="44.2" y2="243.9" stroke="#8a8a8a" stroke-width="1.6"/>
<line x1="53.6" y1="243.9" x2="56.8" y2="243.9" stroke="#8a8a8a" stroke-width="1.6"/>
<circle cx="48.6" cy="243.9" r="2.6" fill="none" stroke="#8a8a8a" stroke-width="1.8"/>
<text x="59.3" y="247.5" font-size="10.35" text-anchor="start" fill="#1a1a1a">PE film</text>
<line x1="40.4" y1="255.9" x2="44.2" y2="255.9" stroke="#65609e" stroke-width="1.6"/>
<line x1="53.6" y1="255.9" x2="56.8" y2="255.9" stroke="#65609e" stroke-width="1.6"/>
<rect x="46.3" y="253.6" width="4.6" height="4.6" fill="none" stroke="#65609e" stroke-width="1.8"/>
<text x="59.3" y="259.5" font-size="10.35" text-anchor="start" fill="#1a1a1a">Coolhouse film</text>
<line x1="40.4" y1="268.8" x2="44.2" y2="268.8" stroke="#fbbf0f" stroke-width="1.6"/>
<line x1="53.6" y1="268.8" x2="56.8" y2="268.8" stroke="#fbbf0f" stroke-width="1.6"/>
<circle cx="48.6" cy="268.8" r="2.6" fill="none" stroke="#fbbf0f" stroke-width="1.8"/>
<text x="59.3" y="272.4" font-size="10.35" text-anchor="start" fill="#1a1a1a">Control</text>
<text x="229.3" y="218" font-size="11" text-anchor="start" fill="#1a1a1a">e</text>
<rect x="263.3" y="220.6" width="175.59999999999997" height="140.70000000000002" fill="none" stroke="#333" stroke-width="1"/>
<line x1="260.3" y1="342.2" x2="263.3" y2="342.2" stroke="#333" stroke-width="1"/>
<line x1="438.9" y1="342.2" x2="435.9" y2="342.2" stroke="#333" stroke-width="1"/>
<text x="259" y="345.8" font-size="10.4" text-anchor="end" fill="#1a1a1a">30</text>
<line x1="261.3" y1="318" x2="263.3" y2="318" stroke="#333" stroke-width="1"/>
<line x1="438.9" y1="318" x2="436.9" y2="318" stroke="#333" stroke-width="1"/>
<line x1="260.3" y1="293.8" x2="263.3" y2="293.8" stroke="#333" stroke-width="1"/>
<line x1="438.9" y1="293.8" x2="435.9" y2="293.8" stroke="#333" stroke-width="1"/>
<text x="259" y="297.4" font-size="10.4" text-anchor="end" fill="#1a1a1a">40</text>
<line x1="261.3" y1="269.6" x2="263.3" y2="269.6" stroke="#333" stroke-width="1"/>
<line x1="438.9" y1="269.6" x2="436.9" y2="269.6" stroke="#333" stroke-width="1"/>
<line x1="260.3" y1="245.4" x2="263.3" y2="245.4" stroke="#333" stroke-width="1"/>
<line x1="438.9" y1="245.4" x2="435.9" y2="245.4" stroke="#333" stroke-width="1"/>
<text x="259" y="249" font-size="10.4" text-anchor="end" fill="#1a1a1a">50</text>
<line x1="261.3" y1="221.2" x2="263.3" y2="221.2" stroke="#333" stroke-width="1"/>
<line x1="438.9" y1="221.2" x2="436.9" y2="221.2" stroke="#333" stroke-width="1"/>
<line x1="282.3" y1="361.3" x2="282.3" y2="364.3" stroke="#333" stroke-width="1"/>
<line x1="282.3" y1="220.6" x2="282.3" y2="223.6" stroke="#333" stroke-width="1"/>
<text x="282.3" y="376.9" font-size="10.4" text-anchor="middle" fill="#1a1a1a">0.25</text>
<line x1="305.36" y1="361.3" x2="305.36" y2="363.3" stroke="#333" stroke-width="1"/>
<line x1="305.36" y1="220.6" x2="305.36" y2="222.6" stroke="#333" stroke-width="1"/>
<line x1="328.43" y1="361.3" x2="328.43" y2="364.3" stroke="#333" stroke-width="1"/>
<line x1="328.43" y1="220.6" x2="328.43" y2="223.6" stroke="#333" stroke-width="1"/>
<text x="328.43" y="376.9" font-size="10.4" text-anchor="middle" fill="#1a1a1a">0.50</text>
<line x1="351.49" y1="361.3" x2="351.49" y2="363.3" stroke="#333" stroke-width="1"/>
<line x1="351.49" y1="220.6" x2="351.49" y2="222.6" stroke="#333" stroke-width="1"/>
<line x1="374.55" y1="361.3" x2="374.55" y2="364.3" stroke="#333" stroke-width="1"/>
<line x1="374.55" y1="220.6" x2="374.55" y2="223.6" stroke="#333" stroke-width="1"/>
<text x="374.55" y="376.9" font-size="10.4" text-anchor="middle" fill="#1a1a1a">0.75</text>
<line x1="397.61" y1="361.3" x2="397.61" y2="363.3" stroke="#333" stroke-width="1"/>
<line x1="397.61" y1="220.6" x2="397.61" y2="222.6" stroke="#333" stroke-width="1"/>
<line x1="420.68" y1="361.3" x2="420.68" y2="364.3" stroke="#333" stroke-width="1"/>
<line x1="420.68" y1="220.6" x2="420.68" y2="223.6" stroke="#333" stroke-width="1"/>
<text x="420.68" y="376.9" font-size="10.4" text-anchor="middle" fill="#1a1a1a">1.00</text>
<text x="355" y="394.3" font-size="10.4" text-anchor="middle" fill="#1a1a1a">Power of sunlight (kW m<tspan font-size="6.5" dy="-4">-2</tspan><tspan dy="4">)</tspan></text>
<text x="236.3" y="298.8" font-size="10.3" text-anchor="middle" fill="#1a1a1a" transform="rotate(-90 236.3 298.8)">Soil temperature (<tspan font-size="8.5" dy="-1.6">°</tspan><tspan dy="1.6">C)</tspan></text>
<polyline points="282.3,329.13 328.43,305.9 374.55,276.38 420.68,243.95" fill="none" stroke="#2e6399" stroke-width="1.5" stroke-linejoin="round" stroke-dasharray="2.2,1.9"/>
<polyline points="282.3,322.36 328.43,289.44 374.55,262.82 420.68,249.76" fill="none" stroke="#8a8a8a" stroke-width="1.5" stroke-linejoin="round" stroke-dasharray="2.2,1.9"/>
<polyline points="282.3,333.97 328.43,321.87 374.55,306.14 420.68,295.74" fill="none" stroke="#65609e" stroke-width="1.5" stroke-linejoin="round" stroke-dasharray="2.2,1.9"/>
<polyline points="282.3,339.78 328.43,326.23 374.55,307.35 420.68,286.54" fill="none" stroke="#fbbf0f" stroke-width="1.5" stroke-linejoin="round" stroke-dasharray="2.2,1.9"/>
<circle cx="282.3" cy="339.78" r="3.4" fill="#fbbf0f"/>
<circle cx="328.43" cy="326.23" r="3.4" fill="#fbbf0f"/>
<circle cx="374.55" cy="307.35" r="3.4" fill="#fbbf0f"/>
<circle cx="420.68" cy="286.54" r="3.4" fill="#fbbf0f"/>
<rect x="279.3" y="330.97" width="6" height="6" fill="#65609e"/>
<rect x="325.43" y="318.87" width="6" height="6" fill="#65609e"/>
<rect x="371.55" y="303.14" width="6" height="6" fill="#65609e"/>
<rect x="417.68" y="292.74" width="6" height="6" fill="#65609e"/>
<circle cx="282.3" cy="322.36" r="3.4" fill="#8a8a8a"/>
<circle cx="328.43" cy="289.44" r="3.4" fill="#8a8a8a"/>
<circle cx="374.55" cy="262.82" r="3.4" fill="#8a8a8a"/>
<circle cx="420.68" cy="249.76" r="3.4" fill="#8a8a8a"/>
<polygon points="282.3,325.05 278.5,331.63 286.1,331.63" fill="#2e6399"/>
<polygon points="328.43,301.82 324.62,308.4 332.23,308.4" fill="#2e6399"/>
<polygon points="374.55,272.3 370.75,278.88 378.35,278.88" fill="#2e6399"/>
<polygon points="420.68,239.87 416.88,246.45 424.48,246.45" fill="#2e6399"/>
<line x1="270" y1="231.5" x2="283.7" y2="231.5" stroke="#2e6399" stroke-width="1.5" stroke-dasharray="2,1.5"/>
<polygon points="277.1,227.42 273.3,234 280.9,234" fill="#2e6399"/>
<text x="286.9" y="235.1" font-size="10.35" text-anchor="start" fill="#1a1a1a">UV-NIR filter</text>
<line x1="270" y1="243.9" x2="283.7" y2="243.9" stroke="#8a8a8a" stroke-width="1.5" stroke-dasharray="2,1.5"/>
<circle cx="277.1" cy="243.9" r="3.4" fill="#8a8a8a"/>
<text x="286.9" y="247.5" font-size="10.35" text-anchor="start" fill="#1a1a1a">PE film</text>
<line x1="270" y1="255.6" x2="283.7" y2="255.6" stroke="#65609e" stroke-width="1.5" stroke-dasharray="2,1.5"/>
<rect x="274.1" y="252.6" width="6" height="6" fill="#65609e"/>
<text x="286.9" y="259.2" font-size="10.35" text-anchor="start" fill="#1a1a1a">Coolhouse film</text>
<line x1="270" y1="268.2" x2="283.7" y2="268.2" stroke="#fbbf0f" stroke-width="1.5" stroke-dasharray="2,1.5"/>
<circle cx="277.1" cy="268.2" r="3.4" fill="#fbbf0f"/>
<text x="286.9" y="271.8" font-size="10.35" text-anchor="start" fill="#1a1a1a">Control</text>
<text x="469.6" y="218" font-size="11" text-anchor="start" fill="#1a1a1a">f</text>
<rect x="515.2" y="340.58" width="5.8" height="20.62" fill="#8a8ac8"/>
<rect x="561.4" y="338.89" width="5.8" height="22.31" fill="#8a8ac8"/>
<rect x="607.8" y="332.3" width="5.8" height="28.9" fill="#8a8ac8"/>
<rect x="654" y="321.92" width="5.8" height="39.28" fill="#8a8ac8"/>
<rect x="521" y="331.6" width="5.8" height="29.6" fill="#2e6399"/>
<rect x="567.2" y="320.51" width="5.8" height="40.69" fill="#2e6399"/>
<rect x="613.6" y="307.89" width="5.8" height="53.31" fill="#2e6399"/>
<rect x="659.8" y="302.41" width="5.8" height="58.79" fill="#2e6399"/>
<rect x="526.8" y="322.06" width="5.8" height="39.14" fill="#999999"/>
<rect x="573" y="310.13" width="5.8" height="51.07" fill="#999999"/>
<rect x="619.4" y="278.98" width="5.8" height="82.22" fill="#999999"/>
<rect x="665.6" y="260.6" width="5.8" height="100.6" fill="#999999"/>
<rect x="532.6" y="316.87" width="5.8" height="44.33" fill="#fbbf0f"/>
<rect x="578.8" y="301.99" width="5.8" height="59.21" fill="#fbbf0f"/>
<rect x="625.2" y="262.99" width="5.8" height="98.21" fill="#fbbf0f"/>
<rect x="671.4" y="236.19" width="5.8" height="125.01" fill="#fbbf0f"/>
<rect x="508.4" y="220.9" width="176.10000000000002" height="140.29999999999998" fill="none" stroke="#333" stroke-width="1"/>
<line x1="505.4" y1="361.2" x2="508.4" y2="361.2" stroke="#333" stroke-width="1"/>
<line x1="684.5" y1="361.2" x2="681.5" y2="361.2" stroke="#333" stroke-width="1"/>
<text x="503.5" y="364.8" font-size="10.4" text-anchor="end" fill="#1a1a1a">0.0</text>
<line x1="506.4" y1="347.17" x2="508.4" y2="347.17" stroke="#333" stroke-width="1"/>
<line x1="684.5" y1="347.17" x2="682.5" y2="347.17" stroke="#333" stroke-width="1"/>
<line x1="505.4" y1="333.14" x2="508.4" y2="333.14" stroke="#333" stroke-width="1"/>
<line x1="684.5" y1="333.14" x2="681.5" y2="333.14" stroke="#333" stroke-width="1"/>
<text x="503.5" y="336.74" font-size="10.4" text-anchor="end" fill="#1a1a1a">0.2</text>
<line x1="506.4" y1="319.11" x2="508.4" y2="319.11" stroke="#333" stroke-width="1"/>
<line x1="684.5" y1="319.11" x2="682.5" y2="319.11" stroke="#333" stroke-width="1"/>
<line x1="505.4" y1="305.08" x2="508.4" y2="305.08" stroke="#333" stroke-width="1"/>
<line x1="684.5" y1="305.08" x2="681.5" y2="305.08" stroke="#333" stroke-width="1"/>
<text x="503.5" y="308.68" font-size="10.4" text-anchor="end" fill="#1a1a1a">0.4</text>
<line x1="506.4" y1="291.05" x2="508.4" y2="291.05" stroke="#333" stroke-width="1"/>
<line x1="684.5" y1="291.05" x2="682.5" y2="291.05" stroke="#333" stroke-width="1"/>
<line x1="505.4" y1="277.02" x2="508.4" y2="277.02" stroke="#333" stroke-width="1"/>
<line x1="684.5" y1="277.02" x2="681.5" y2="277.02" stroke="#333" stroke-width="1"/>
<text x="503.5" y="280.62" font-size="10.4" text-anchor="end" fill="#1a1a1a">0.6</text>
<line x1="506.4" y1="262.99" x2="508.4" y2="262.99" stroke="#333" stroke-width="1"/>
<line x1="684.5" y1="262.99" x2="682.5" y2="262.99" stroke="#333" stroke-width="1"/>
<line x1="505.4" y1="248.96" x2="508.4" y2="248.96" stroke="#333" stroke-width="1"/>
<line x1="684.5" y1="248.96" x2="681.5" y2="248.96" stroke="#333" stroke-width="1"/>
<text x="503.5" y="252.56" font-size="10.4" text-anchor="end" fill="#1a1a1a">0.8</text>
<line x1="506.4" y1="234.93" x2="508.4" y2="234.93" stroke="#333" stroke-width="1"/>
<line x1="684.5" y1="234.93" x2="682.5" y2="234.93" stroke="#333" stroke-width="1"/>
<line x1="505.4" y1="220.9" x2="508.4" y2="220.9" stroke="#333" stroke-width="1"/>
<line x1="684.5" y1="220.9" x2="681.5" y2="220.9" stroke="#333" stroke-width="1"/>
<text x="503.5" y="224.5" font-size="10.4" text-anchor="end" fill="#1a1a1a">1.0</text>
<line x1="526.8" y1="361.2" x2="526.8" y2="364.2" stroke="#333" stroke-width="1"/>
<line x1="526.8" y1="220.9" x2="526.8" y2="223.9" stroke="#333" stroke-width="1"/>
<text x="526.8" y="376.2" font-size="10.4" text-anchor="middle" fill="#1a1a1a">0.25</text>
<line x1="549.9" y1="361.2" x2="549.9" y2="363.2" stroke="#333" stroke-width="1"/>
<line x1="549.9" y1="220.9" x2="549.9" y2="222.9" stroke="#333" stroke-width="1"/>
<line x1="573" y1="361.2" x2="573" y2="364.2" stroke="#333" stroke-width="1"/>
<line x1="573" y1="220.9" x2="573" y2="223.9" stroke="#333" stroke-width="1"/>
<text x="573" y="376.2" font-size="10.4" text-anchor="middle" fill="#1a1a1a">0.50</text>
<line x1="596.1" y1="361.2" x2="596.1" y2="363.2" stroke="#333" stroke-width="1"/>
<line x1="596.1" y1="220.9" x2="596.1" y2="222.9" stroke="#333" stroke-width="1"/>
<line x1="619.2" y1="361.2" x2="619.2" y2="364.2" stroke="#333" stroke-width="1"/>
<line x1="619.2" y1="220.9" x2="619.2" y2="223.9" stroke="#333" stroke-width="1"/>
<text x="619.2" y="376.2" font-size="10.4" text-anchor="middle" fill="#1a1a1a">0.75</text>
<line x1="642.3" y1="361.2" x2="642.3" y2="363.2" stroke="#333" stroke-width="1"/>
<line x1="642.3" y1="220.9" x2="642.3" y2="222.9" stroke="#333" stroke-width="1"/>
<line x1="665.4" y1="361.2" x2="665.4" y2="364.2" stroke="#333" stroke-width="1"/>
<line x1="665.4" y1="220.9" x2="665.4" y2="223.9" stroke="#333" stroke-width="1"/>
<text x="665.4" y="376.2" font-size="10.4" text-anchor="middle" fill="#1a1a1a">1.00</text>
<text x="594.9" y="394.6" font-size="10.4" text-anchor="middle" fill="#1a1a1a">Power of sunlight (kW m<tspan font-size="6.5" dy="-4">-2</tspan><tspan dy="4">)</tspan></text>
<text x="476" y="292.8" font-size="10.3" text-anchor="middle" fill="#1a1a1a" transform="rotate(-90 476 292.8)">Evaporation rate (kg m<tspan font-size="6.5" dy="-4">-2</tspan><tspan dy="4"> h</tspan><tspan font-size="6.5" dy="-4">-1</tspan><tspan dy="4">)</tspan></text>
<rect x="525.2" y="231.8" width="16.3" height="6" fill="#6b64a0"/>
<text x="545.6" y="238.4" font-size="10.35" text-anchor="start" fill="#1a1a1a">Coolhouse film</text>
<rect x="525.2" y="245.2" width="16.3" height="6" fill="#2e6399"/>
<text x="545.6" y="251.8" font-size="10.35" text-anchor="start" fill="#1a1a1a">UV-NIR filter</text>
<rect x="525.2" y="258.8" width="16.3" height="6" fill="#999999"/>
<text x="545.6" y="265.4" font-size="10.35" text-anchor="start" fill="#1a1a1a">PE film</text>
<rect x="525.2" y="272.3" width="16.3" height="6" fill="#fbbf0f"/>
<text x="545.6" y="278.9" font-size="10.35" text-anchor="start" fill="#1a1a1a">Control</text>
</svg>
</body></html>
